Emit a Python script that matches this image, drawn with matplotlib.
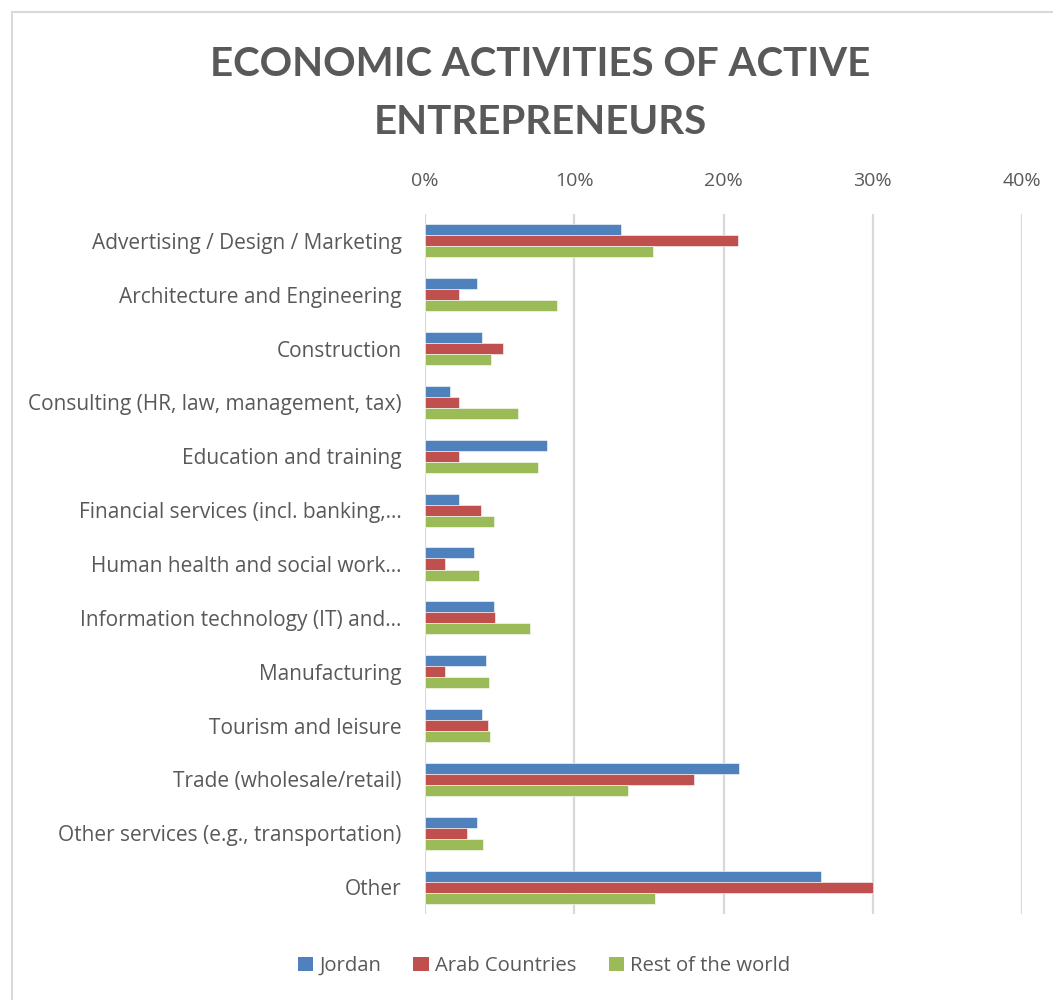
import numpy as np
import matplotlib
matplotlib.use('Agg')
import matplotlib.pyplot as plt
from matplotlib.lines import Line2D
from matplotlib.patches import Patch
from matplotlib import font_manager

categories = [
    "Advertising / Design / Marketing",
    "Architecture and Engineering",
    "Construction",
    "Consulting (HR, law, management, tax)",
    "Education and training",
    "Financial services (incl. banking,\u2026",
    "Human health and social work\u2026",
    "Information technology (IT) and\u2026",
    "Manufacturing",
    "Tourism and leisure",
    "Trade (wholesale/retail)",
    "Other services (e.g., transportation)",
    "Other",
]
jordan = [13.1, 3.5, 3.8, 1.7, 8.2, 2.25, 3.3, 4.6, 4.1, 3.8, 21.05, 3.5, 26.5]
arab = [20.95, 2.3, 5.2, 2.3, 2.3, 3.75, 1.35, 4.7, 1.35, 4.2, 18.05, 2.8, 30.0]
rest = [15.3, 8.85, 4.45, 6.2, 7.6, 4.65, 3.6, 7.05, 4.3, 4.35, 13.6, 3.9, 15.4]
series = ["Jordan", "Arab Countries", "Rest of the world"]
colors = ["#4F81BD", "#C0504D", "#9BBB59"]
xticks = [0, 10, 20, 30, 40]

grey = "#595959"
font = "Open Sans"
names = {f.name for f in font_manager.fontManager.ttflist}
title_font = [n for n in ["Liberation Sans Narrow", "DejaVu Sans Condensed",
                          "Lato"] if n in names][0]

fig = plt.figure(figsize=(10.53, 10.0), dpi=100)
ax = fig.add_axes([425 / 1053, 0.086, (1022 - 425) / 1053, 0.786 - 0.086])

# outer chart frame (open at right and bottom)
fig.add_artist(Line2D([11.5 / 1053, 1.0], [1 - 11.5 / 1000] * 2,
                      transform=fig.transFigure, color="#d9d9d9", lw=1.5))
fig.add_artist(Line2D([11.5 / 1053] * 2, [0.0, 1 - 11.5 / 1000],
                      transform=fig.transFigure, color="#d9d9d9", lw=1.5))

y = np.arange(len(categories))
h = 0.205
for i, (vals, c, name) in enumerate(zip([jordan, arab, rest], colors, series)):
    ax.barh(y + (i - 1) * h, vals, height=h, color=c, label=name,
            edgecolor="white", linewidth=0.4, zorder=3)

ax.set_ylim(len(categories) - 0.5, -0.5)
ax.set_xlim(0, 40)
ax.set_xticks(xticks)
ax.set_xticklabels(["{}%".format(t) for t in xticks])
ax.set_yticks(y)
ax.set_yticklabels(categories)
ax.xaxis.tick_top()
ax.tick_params(axis="x", length=0, pad=17, labelsize=14, labelcolor=grey)
ax.tick_params(axis="y", length=0, pad=17, labelsize=15, labelcolor=grey)
for lab in ax.get_xticklabels() + ax.get_yticklabels():
    lab.set_fontfamily(font)
ax.grid(axis="x", color="#d9d9d9", lw=1.6, zorder=0)
for s in ax.spines.values():
    s.set_visible(False)

fig.text(540 / 1053, 0.936, "ECONOMIC ACTIVITIES OF ACTIVE", ha="center",
         va="center", fontsize=29, fontweight="bold", color=grey,
         family=title_font)
fig.text(540 / 1053, 0.878, "ENTREPRENEURS", ha="center", va="center",
         fontsize=29, fontweight="bold", color=grey, family=title_font)

handles = [Patch(facecolor=c, label=n) for c, n in zip(colors, series)]
fig.legend(handles=handles, loc="center", bbox_to_anchor=(544 / 1053, 0.034),
           ncol=3, frameon=False, handlelength=0.75, handleheight=0.75,
           handletextpad=0.3, columnspacing=1.6,
           prop={"family": font, "size": 14.6}, labelcolor=grey)

fig.savefig("out.png", dpi=100)
